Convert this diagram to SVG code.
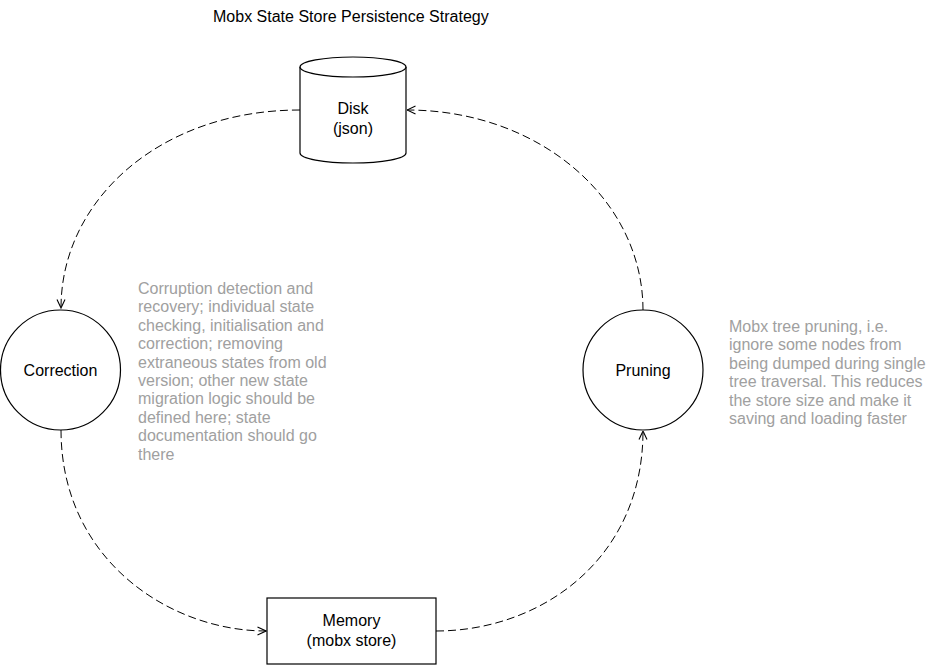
<svg xmlns="http://www.w3.org/2000/svg" width="932" height="666" viewBox="0 0 932 666">
<defs>
<style>
text{font-family:"Liberation Sans",Arial,Helvetica,sans-serif;font-size:16px;}
.lbl{fill:#000;text-anchor:middle;}
.note{fill:#a0a0a0;}
.shape{fill:#fff;stroke:#000;stroke-width:1.2;}
.edge{fill:none;stroke:#000;stroke-width:1;stroke-dasharray:8 4;}
</style>
<marker id="arr" viewBox="0 0 10 10" refX="9.5" refY="5" markerWidth="10" markerHeight="10" markerUnits="userSpaceOnUse" orient="auto">
<path d="M1,1 L9.5,5 L1,9" fill="none" stroke="#000" stroke-width="1.1"/>
</marker>
</defs>
<rect width="932" height="666" fill="#fff"/>
<text x="213" y="22" fill="#000">Mobx State Store Persistence Strategy</text>
<g id="connectors">
<path class="edge" d="M300,110 C160,110 61,200 61,308" marker-end="url(#arr)"/>
<path class="edge" d="M61,430 C61,560 170,631 266,631" marker-end="url(#arr)"/>
<path class="edge" d="M436,631 C540,631 643,560 643,431" marker-end="url(#arr)"/>
<path class="edge" d="M643,310 C643,200 540,110 407,110" marker-end="url(#arr)"/>
</g>
<g id="disk">
<path class="shape" d="M300,67 A53,10 0 0 1 406,67 L406,153 A53,10 0 0 1 300,153 Z"/>
<path class="shape" d="M300,67 A53,10 0 0 0 406,67" fill="none"/>
<text class="lbl" x="353" y="114">Disk</text>
<text class="lbl" x="353" y="134">(json)</text>
</g>
<g id="correction">
<circle class="shape" cx="60.5" cy="370" r="60"/>
<text class="lbl" x="60.5" y="376">Correction</text>
</g>
<g id="pruning">
<circle class="shape" cx="643" cy="370" r="60"/>
<text class="lbl" x="643" y="376">Pruning</text>
</g>
<g id="memory">
<rect class="shape" x="267" y="598" width="169" height="66"/>
<text class="lbl" x="351.5" y="626">Memory</text>
<text class="lbl" x="351.5" y="646">(mobx store)</text>
</g>
<g id="correction-note">
<text class="note" x="138" y="294">Corruption detection and</text>
<text class="note" x="138" y="312.4">recovery; individual state</text>
<text class="note" x="138" y="330.8">checking, initialisation and</text>
<text class="note" x="138" y="349.2">correction; removing</text>
<text class="note" x="138" y="367.6">extraneous states from old</text>
<text class="note" x="138" y="386">version; other new state</text>
<text class="note" x="138" y="404.4">migration logic should be</text>
<text class="note" x="138" y="422.8">defined here; state</text>
<text class="note" x="138" y="441.2">documentation should go</text>
<text class="note" x="138" y="459.6">there</text>
</g>
<g id="pruning-note">
<text class="note" x="729" y="332">Mobx tree pruning, i.e.</text>
<text class="note" x="729" y="350.4">ignore some nodes from</text>
<text class="note" x="729" y="368.8">being dumped during single</text>
<text class="note" x="729" y="387.2">tree traversal. This reduces</text>
<text class="note" x="729" y="405.6">the store size and make it</text>
<text class="note" x="729" y="424">saving and loading faster</text>
</g>
</svg>
